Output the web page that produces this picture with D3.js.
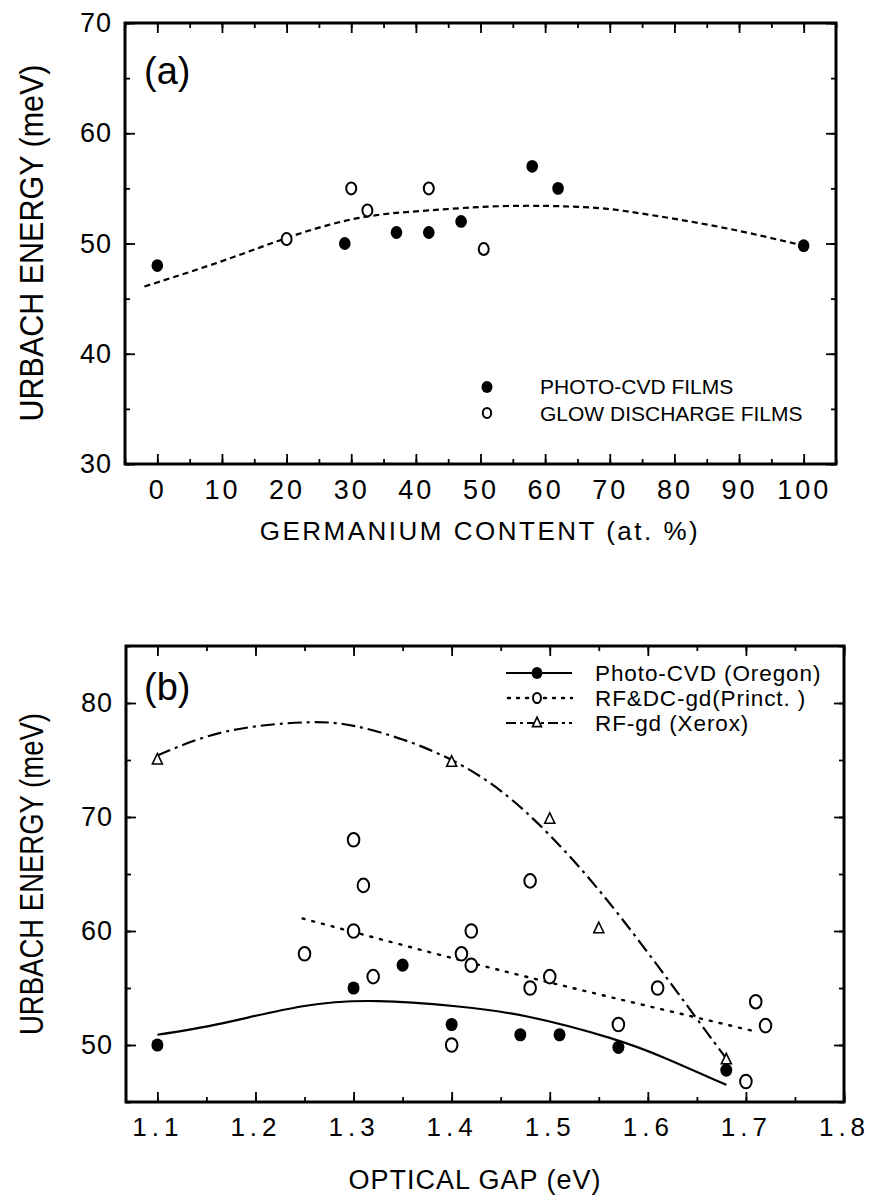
<!DOCTYPE html>
<html><head><meta charset="utf-8">
<script src="https://cdn.jsdelivr.net/npm/d3@7/dist/d3.min.js"></script>
<style>body{margin:0;background:#fff}svg{display:block}text{font-family:"Liberation Sans",Arial,sans-serif;fill:#000}</style>
</head><body><svg id="c" width="870" height="1201"></svg>
<script>
// ---- Panel (a) data ----
const aPhotoX = [0, 29, 37, 42, 47, 58, 62, 100];
const aPhotoY = [48, 50, 51, 51, 52, 57, 55, 49.8];
const aGlowX = [20, 30, 32.5, 42, 50.5];
const aGlowY = [50.4, 55, 53, 55, 49.5];
const aFitX = [-2, 10, 20, 31, 42, 54, 66, 74, 87, 100];
const aFitY = [46.1, 48.4, 50.5, 52.3, 53.0, 53.4, 53.3, 52.8, 51.5, 49.8];
const aXTicks = [0, 10, 20, 30, 40, 50, 60, 70, 80, 90, 100];
const aYTicks = [30, 40, 50, 60, 70];
const aLegend = ["PHOTO-CVD FILMS", "GLOW DISCHARGE FILMS"];

// ---- Panel (b) data ----
const bPhotoX = [1.10, 1.30, 1.35, 1.40, 1.47, 1.51, 1.57, 1.68];
const bPhotoY = [50, 55, 57, 51.8, 50.9, 50.9, 49.8, 47.8];
const bRfdcX = [1.25, 1.30, 1.30, 1.31, 1.32, 1.40, 1.41, 1.42, 1.42, 1.48, 1.48, 1.50, 1.57, 1.61, 1.70, 1.71, 1.72];
const bRfdcY = [58, 68, 60, 64, 56, 50, 58, 60, 57, 64.4, 55, 56, 51.8, 55, 46.8, 53.8, 51.7];
const bXeroxX = [1.10, 1.40, 1.50, 1.55, 1.68];
const bXeroxY = [75, 74.8, 69.8, 60.2, 48.7];
const bPhotoFitX = [1.10, 1.166, 1.248, 1.325, 1.404, 1.477, 1.562, 1.619, 1.68];
const bPhotoFitY = [50.9, 51.9, 53.4, 53.85, 53.4, 52.5, 50.6, 48.8, 46.5];
const bRfdcFitX = [1.248, 1.42, 1.562, 1.709];
const bRfdcFitY = [61.1, 57.2, 54.2, 51.2];
const bXeroxFitX = [1.10, 1.17, 1.25, 1.30, 1.35, 1.40, 1.45, 1.50, 1.55, 1.60, 1.65, 1.68];
const bXeroxFitY = [75.4, 77.5, 78.3, 78.0, 76.8, 75.0, 72.3, 68.4, 63.6, 58.1, 52.3, 48.8];
const bXTicks = [1.1, 1.2, 1.3, 1.4, 1.5, 1.6, 1.7, 1.8];
const bYTicks = [50, 60, 70, 80];
const bLegend = ["Photo-CVD (Oregon)", "RF&DC-gd(Princt. )", "RF-gd (Xerox)"];

const svg = d3.select("#c");
svg.append("rect").attr("width",870).attr("height",1201).attr("fill","#fff");

function zip(xs, ys){ return xs.map((x,i)=>[x, ys[i]]); }
function range(a,b,s){ const r=[]; for(let v=a; v<=b+1e-9; v+=s) r.push(+v.toFixed(4)); return r; }

function frame(g, x, y, xMinor, yMinor, xMaj, yMaj, xFmt, yFmt, xls, xfs){
  const [x0,x1]=x.range(), [y0,y1]=y.range();
  const mk = (axisFn, scale, vals, size, tr) => g.append("g").attr("transform",tr)
      .call(axisFn(scale).tickValues(vals).tickSize(size).tickFormat(""))
      .call(s=>{s.select(".domain").remove(); s.selectAll("line").attr("stroke","#000").attr("stroke-width",1.8);});
  mk(d3.axisBottom, x, xMinor, -5, `translate(0,${y0})`);
  mk(d3.axisTop, x, xMinor, -5, `translate(0,${y1})`);
  mk(d3.axisLeft, y, yMinor, -5, `translate(${x0},0)`);
  mk(d3.axisRight, y, yMinor, -5, `translate(${x1},0)`);
  mk(d3.axisTop, x, xMaj, -10, `translate(0,${y1})`);
  mk(d3.axisRight, y, yMaj, -10, `translate(${x1},0)`);
  const gx = g.append("g").attr("transform",`translate(0,${y0})`)
    .call(d3.axisBottom(x).tickValues(xMaj).tickSize(-10).tickPadding(16).tickFormat(xFmt));
  gx.select(".domain").remove();
  gx.selectAll("line").attr("stroke","#000").attr("stroke-width",1.8);
  gx.selectAll("text").attr("font-size",xfs).attr("letter-spacing",xls).attr("dy","0.71em")
    .style("font-family",'"Liberation Sans",Arial,sans-serif').attr("fill","#000");
  const gy = g.append("g").attr("transform",`translate(${x0},0)`)
    .call(d3.axisLeft(y).tickValues(yMaj).tickSize(-10).tickPadding(13).tickFormat(yFmt));
  gy.select(".domain").remove();
  gy.selectAll("line").attr("stroke","#000").attr("stroke-width",1.8);
  gy.selectAll("text").attr("font-size",27).attr("letter-spacing",1)
    .style("font-family",'"Liberation Sans",Arial,sans-serif').attr("fill","#000");
  g.append("rect").attr("x",x0).attr("y",y1).attr("width",x1-x0).attr("height",y0-y1)
    .attr("fill","none").attr("stroke","#000").attr("stroke-width",3);
}

function openCircle(g, cx, cy, rx, ry){
  g.append("ellipse").attr("cx",cx).attr("cy",cy).attr("rx",rx).attr("ry",ry)
   .attr("fill","#fff").attr("stroke","#000").attr("stroke-width",2);
}
function filledCircle(g, cx, cy, r){
  g.append("ellipse").attr("cx",cx).attr("cy",cy).attr("rx",r).attr("ry",r+0.6).attr("fill","#000");
}
function triangle(g, cx, cy, s){
  g.append("path").attr("d",`M${cx},${cy-s*0.65}L${cx+s*0.5},${cy+s*0.4}L${cx-s*0.5},${cy+s*0.4}Z`)
   .attr("fill","#fff").attr("stroke","#000").attr("stroke-width",1.6);
}

// ================= Panel (a) =================
const ga = svg.append("g");
const xa = d3.scaleLinear().domain([-5,105]).range([125,836]);
const ya = d3.scaleLinear().domain([30,70]).range([464,23]);
const line = (x,y,curve)=>d3.line().x(d=>x(d[0])).y(d=>y(d[1])).curve(curve||d3.curveNatural);

ga.append("path").datum(zip(aFitX,aFitY)).attr("d",line(xa,ya))
  .attr("fill","none").attr("stroke","#000").attr("stroke-width",2.2).attr("stroke-dasharray","6,4");
zip(aPhotoX,aPhotoY).forEach(d=>filledCircle(ga, xa(d[0]), ya(d[1]), 5.8));
zip(aGlowX,aGlowY).forEach(d=>openCircle(ga, xa(d[0]), ya(d[1]), 5, 6));

frame(ga, xa, ya, range(-5,105,5), range(30,70,5), aXTicks, aYTicks, d3.format("d"), d3.format("d"), 3, 27);

ga.append("text").attr("x",144).attr("y",84).attr("font-size",38).text("(a)");
filledCircle(ga, 487, 387, 5.5);
openCircle(ga, 487, 413, 4.2, 5);
ga.append("text").attr("x",540).attr("y",394).attr("font-size",21).text(aLegend[0]);
ga.append("text").attr("x",540).attr("y",421).attr("font-size",21).text(aLegend[1]);

ga.append("text").attr("x",480).attr("y",540).attr("text-anchor","middle").attr("font-size",26)
  .attr("letter-spacing",2.5).text("GERMANIUM CONTENT (at. %)");
ga.append("text").attr("transform","translate(43,243) rotate(-90)").attr("text-anchor","middle")
  .attr("font-size",34).attr("textLength",357).attr("lengthAdjust","spacingAndGlyphs").text("URBACH ENERGY (meV)");

// ================= Panel (b) =================
const gb = svg.append("g");
const xb = d3.scaleLinear().domain([1.068,1.8]).range([126,844]);
const yb = d3.scaleLinear().domain([45,85]).range([1102,646]);

gb.append("path").datum(zip(bPhotoFitX,bPhotoFitY)).attr("d",line(xb,yb))
  .attr("fill","none").attr("stroke","#000").attr("stroke-width",2.2);
gb.append("path").datum(zip(bRfdcFitX,bRfdcFitY)).attr("d",line(xb,yb))
  .attr("fill","none").attr("stroke","#000").attr("stroke-width",2.4).attr("stroke-dasharray","2,8").attr("stroke-linecap","round");
gb.append("path").datum(zip(bXeroxFitX,bXeroxFitY)).attr("d",line(xb,yb))
  .attr("fill","none").attr("stroke","#000").attr("stroke-width",2.2).attr("stroke-dasharray","14,5,3,5");

zip(bRfdcX,bRfdcY).forEach(d=>openCircle(gb, xb(d[0]), yb(d[1]), 5.8, 6.8));
zip(bXeroxX,bXeroxY).forEach(d=>triangle(gb, xb(d[0]), yb(d[1]), 10));
zip(bPhotoX,bPhotoY).forEach(d=>filledCircle(gb, xb(d[0]), yb(d[1]), 6));

frame(gb, xb, yb, range(1.1,1.8,0.05), range(45,85,5), bXTicks, bYTicks, d3.format(".1f"), d3.format("d"), 5, 26);

gb.append("text").attr("x",144).attr("y",700).attr("font-size",38).text("(b)");
// legend
const legY = [673, 698, 723];
gb.append("line").attr("x1",506).attr("x2",572).attr("y1",legY[0]).attr("y2",legY[0]).attr("stroke","#000").attr("stroke-width",2.2);
filledCircle(gb, 537, legY[0], 5.5);
gb.append("line").attr("x1",508).attr("x2",572).attr("y1",legY[1]).attr("y2",legY[1]).attr("stroke","#000").attr("stroke-width",2.4).attr("stroke-dasharray","2,7").attr("stroke-linecap","round");
openCircle(gb, 537, legY[1], 4, 5);
gb.append("line").attr("x1",506).attr("x2",572).attr("y1",legY[2]).attr("y2",legY[2]).attr("stroke","#000").attr("stroke-width",2.2).attr("stroke-dasharray","10,4,3,4");
triangle(gb, 537, legY[2], 9);
bLegend.forEach((t,i)=>gb.append("text").attr("x",595).attr("y",legY[i]+8).attr("font-size",22.5)
  .attr("letter-spacing",0.9).text(t));

gb.append("text").attr("x",475).attr("y",1189).attr("text-anchor","middle").attr("font-size",27)
  .attr("letter-spacing",1).text("OPTICAL GAP (eV)");
gb.append("text").attr("transform","translate(43,874) rotate(-90)").attr("text-anchor","middle")
  .attr("font-size",34).attr("textLength",322).attr("lengthAdjust","spacingAndGlyphs").text("URBACH ENERGY (meV)");
</script></body></html>
